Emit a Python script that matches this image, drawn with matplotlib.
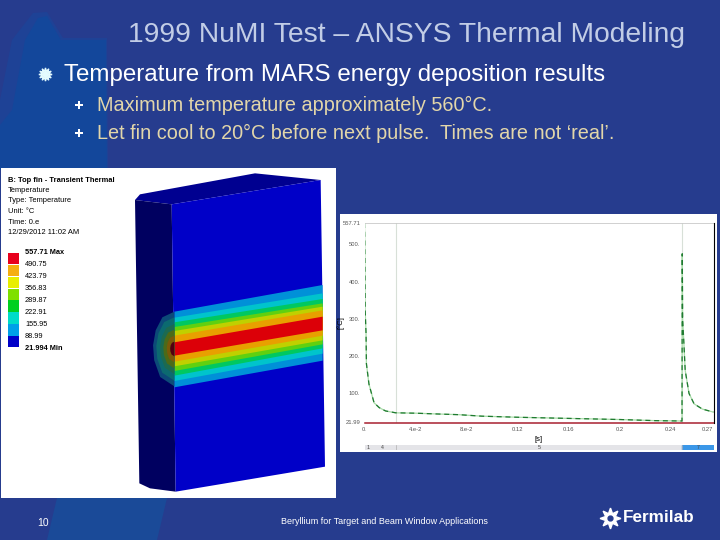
import matplotlib
matplotlib.use("Agg")
import matplotlib.pyplot as plt
from matplotlib.patches import Polygon, Rectangle

# ---------- data ----------
title = "1999 NuMI Test – ANSYS Thermal Modeling"
bullet_main = "Temperature from MARS energy deposition results"
bullet_subs = ["Maximum temperature approximately 560°C.",
               "Let fin cool to 20°C before next pulse.  Times are not ‘real’."]
footer = "Beryllium for Target and Beam Window Applications"
page = "10"

# temperature history (s, °C)
time_s = [0.0, 0.0002, 0.0005, 0.0012, 0.0015, 0.0035, 0.0075, 0.0115, 0.0165, 0.0245,
          0.040, 0.056, 0.074, 0.092, 0.121, 0.160, 0.200, 0.228, 0.2490,
          0.2492, 0.2495, 0.2505, 0.2515, 0.2545, 0.2585, 0.265, 0.2735]
temp_c = [557.7, 510.0, 325.0, 262.0, 180.0, 125.0, 75.0, 62.0, 53.0, 48.0,
          47.0, 45.0, 43.0, 39.0, 36.0, 33.0, 30.0, 27.0, 26.0,
          475.0, 300.0, 233.0, 162.0, 100.0, 72.0, 58.0, 50.0]
ambient_t = [0.0, 0.2737]
ambient_c = [21.99, 21.99]
x_ticks = [0.0, 0.04, 0.08, 0.12, 0.16, 0.2, 0.24, 0.2737]
x_labels = ["0.", "4.e-2", "8.e-2", "0.12", "0.16", "0.2", "0.24", "0.27"]
y_ticks = [21.99, 100, 200, 300, 400, 500, 557.7]
y_labels = ["21.99", "100.", "200.", "300.", "400.", "500.", "557.71"]
step_edges = [0.0, 0.0246, 0.2492, 0.2737]

# contour legend
legend_header = ["B: Top fin - Transient Thermal", "Temperature", "Type: Temperature",
                 "Unit: °C", "Time: 0.e", "12/29/2012 11:02 AM"]
legend_values = ["557.71 Max", "490.75", "423.79", "356.83", "289.87",
                 "222.91", "155.95", "88.99", "21.994 Min"]
legend_colors = ["#e8001c", "#f5ae10", "#e8ee00", "#7fe000", "#00d020",
                 "#00dcc8", "#00a0e8", "#0000c8"]

# contour band outlines: colour, left-edge top/bottom, right-edge top/bottom
band_colors = ["#0090d8", "#00c4cc", "#00c860", "#60d010", "#c0d000", "#e8a000", "#dc0008"]
band_left_top = [440, 458, 472, 486, 498, 512, 532]
band_left_bot = [667, 648, 632, 618, 604, 590, 572]
band_right_top = [360, 385, 402, 415, 425, 436, 455]
band_right_bot = [587, 566, 550, 538, 526, 512, 496]

# ---------- slide ----------
fig = plt.figure(figsize=(7.2, 5.4), dpi=100, facecolor="#263c8e")
plt.rcParams["font.family"] = ["Liberation Sans", "DejaVu Sans"]
bg = fig.add_axes([0, 0, 1, 1])
bg.set_xlim(0, 720)
bg.set_ylim(540, 0)
bg.axis("off")
bg.add_patch(Polygon([(0, 100), (12, 40), (33, 13), (47, 12), (63, 38), (107, 38), (108, 170), (0, 170)],
                     fc="#1e4296", ec="none"))
bg.add_patch(Polygon([(12, 110), (25, 40), (38, 18), (47, 16), (61, 40), (106, 40), (107, 170), (0, 170), (0, 125)],
                     fc="#13479b", ec="none"))
bg.add_patch(Polygon([(57, 498), (167, 498), (157, 540), (47, 540)], fc="#1a4a98", ec="none"))

bg.text(406, 35, title, color="#c2cde6", fontsize=20.3, ha="center", va="center")
bg.text(64, 75, bullet_main, color="white", fontsize=17.4, ha="left", va="center")
bg.plot([45], [74], marker=(12, 1, 0), ms=9.5, color="#e4fbff", ls="none")
for y, s in zip([105, 133], bullet_subs):
    bg.text(97, y, s, color="#e2d6aa", fontsize=14.3, ha="left", va="center")
    bg.plot([79], [y], marker="P", ms=6, color="white", mew=0, ls="none")
bg.text(43, 523, page, color="white", fontsize=7.5, ha="center", va="center")
bg.text(384, 521, footer, color="white", fontsize=6.45, ha="center", va="center")
bg.plot([610], [518], marker=(8, 1, 0), ms=15, color="white", ls="none")
bg.plot([610], [518], marker="o", ms=3.5, color="#263c8e", ls="none")
bg.text(623, 518, "Fermilab", color="white", fontsize=12.3, fontweight="bold", ha="left", va="center")

# ---------- contour image (pixels in slide space) ----------
bg.add_patch(Rectangle((1, 168), 335, 330, fc="white", ec="none"))


def z(px, py):
    return (130 + px / 3, 165 + py / 3)


bg.add_patch(Polygon([z(15, 105), z(30, 88), z(375, 25), z(572, 45), z(125, 118)], fc="#000090", ec="none"))
bg.add_patch(Polygon([z(15, 105), z(125, 118), z(137, 980), z(60, 970), z(28, 955)], fc="#000060", ec="none"))
bg.add_patch(Polygon([z(125, 118), z(572, 45), z(585, 905), z(137, 980)], fc="#0000c8", ec="none"))
for c, lt, lb, rt, rb in zip(band_colors, band_left_top, band_left_bot, band_right_top, band_right_bot):
    bg.add_patch(Polygon([z(133, lt), z(578, rt), z(578, rb), z(133, lb)], fc=c, ec="none"))
for r, c in zip([112, 95, 75, 58, 40, 22],
                ["#0c4a78", "#0c6a70", "#1c6a50", "#4c6a18", "#7a5a08", "#500010"]):
    ax_y = 552
    bg.add_patch(Polygon([z(133 - r * t, ax_y + r * v) for t, v in
                          [(0, -1), (.32, -.85), (.5, -.5), (.57, -.1), (.54, .3), (.38, .75), (0, 1)]],
                         fc=c, ec="none"))

for i, s in enumerate(legend_header):
    bg.text(8, 180 + i * 10.5, s, fontsize=5.4, color="black", ha="left", va="center",
            fontweight="bold" if i == 0 else "normal")
for i, c in enumerate(legend_colors):
    bg.add_patch(Rectangle((8, 253 + i * 11.85), 10.5, 11.4, fc=c, ec="none"))
for i, s in enumerate(legend_values):
    bg.text(25, 253 + i * 11.9, s, fontsize=5.3, color="black", ha="left", va="center",
            fontweight="bold" if i in (0, 8) else "normal")

# ---------- temperature chart ----------
bg.add_patch(Rectangle((340, 214), 377, 238, fc="white", ec="none"))
ax = fig.add_axes([364.5 / 720, 1 - 422.5 / 540, 349 / 720, 199.5 / 540])
ax.patch.set_alpha(0)
ax.plot(time_s, temp_c, color="#a8dca8", lw=0.9)
ax.plot(time_s, temp_c, color="#1f7a30", lw=0.9, ls=(0, (4, 3)))
ax.plot(ambient_t, ambient_c, color="#a82030", lw=1.1, clip_on=False)
for e in step_edges[1:-1]:
    ax.axvline(e, color="#d8e0d8", lw=0.8, zorder=0)
ax.set_xlim(0, 0.2737)
ax.set_ylim(21.99, 557.7)
ax.axhline(557.7, color="#c8c8c8", lw=1.2)
ax.set_xticks(x_ticks, x_labels)
ax.set_yticks(y_ticks, y_labels)
ax.get_xticklabels()[-1].set_ha("right")
ax.tick_params(labelsize=4.2, length=0, pad=3, colors="#555555")
ax.set_xlabel("[s]", fontsize=5.5, labelpad=3)
ax.set_ylabel("[°C]", fontsize=5.5)
ax.yaxis.set_label_coords(-0.058, 0.5)
ax.spines["top"].set_visible(False)
ax.spines["left"].set_visible(False)
ax.spines["bottom"].set_visible(False)
ax.spines["right"].set_color("black")

# step strip under the chart
bar = fig.add_axes([364.5 / 720, 1 - 450 / 540, 349 / 720, 5.5 / 540])
bar.set_xlim(0, 0.2737)
bar.set_ylim(0, 1)
bar.axis("off")
bar.axvspan(step_edges[0], step_edges[2], color="#e4e4e8")
bar.axvspan(step_edges[2], step_edges[3], color="#3b97e8")
for e in step_edges[1:-1]:
    bar.axvline(e, color="#b0b0b0", lw=.5)
for t, s in zip([0.003, 0.014, 0.137, 0.262], ["1", "4", "5", "7"]):
    bar.text(t, .5, s, fontsize=3.8, ha="center", va="center", color="#444444")

fig.savefig("out.png", dpi=100, facecolor=fig.get_facecolor())
